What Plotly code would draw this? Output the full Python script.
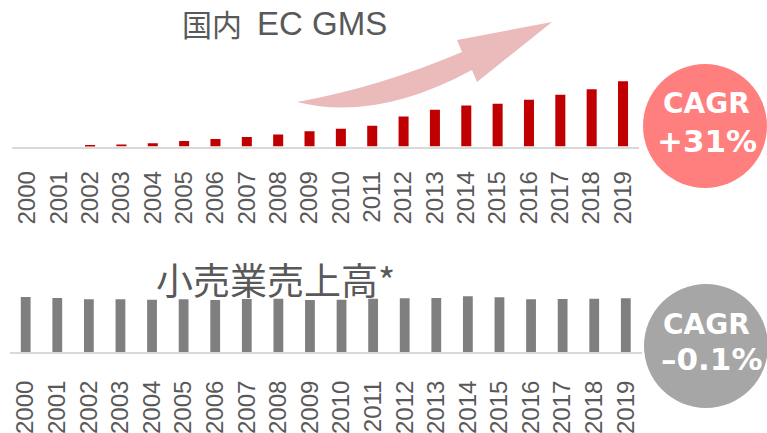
import plotly.graph_objects as go

# ---------------- data ----------------
years = ["2000", "2001", "2002", "2003", "2004", "2005", "2006", "2007", "2008", "2009",
         "2010", "2011", "2012", "2013", "2014", "2015", "2016", "2017", "2018", "2019"]
ec_gms = [0, 0, 0.3, 0.6, 1.0, 1.6, 2.2, 2.8, 3.6, 4.5,
          5.3, 6.2, 8.9, 10.9, 12.2, 12.7, 13.9, 15.4, 17.0, 19.4]
retail_sales = [148.5, 145.8, 142.3, 142.3, 141.2, 142.3, 140.4, 143.1, 143.9, 140.4,
                141.2, 143.9, 145.0, 145.8, 150.4, 147.7, 142.3, 143.1, 143.9, 145.0]
titles = ["国内", "EC GMS", "小売業売上高*"]
cagr_heads = ["CAGR", "CAGR"]
cagr_values = ["+31%", "–0.1%"]

# ---------------- layout helpers (pixel -> paper) ----------------
W, H = 767, 433
def fx(x):
    return x / W
def fy(y):
    return 1 - y / H

GRAY_TXT = "#595959"
AXIS_LINE = "#D9D9D9"

fig = go.Figure()
fig.add_trace(go.Bar(x=years, y=ec_gms, marker_color="#C00000", marker_line_width=0,
                     width=0.32, xaxis="x", yaxis="y", hoverinfo="x+y"))
fig.add_trace(go.Bar(x=years, y=retail_sales, marker_color="#7F7F7F", marker_line_width=0,
                     width=0.31, xaxis="x2", yaxis="y2", hoverinfo="x+y"))

tickfont = dict(family="Liberation Sans, Arial, sans-serif", size=24, color=GRAY_TXT)
common_x = dict(type="category", showline=True, linecolor=AXIS_LINE, linewidth=2,
                showgrid=False, zeroline=False, ticks="", tickangle=-90,
                tickfont=tickfont, fixedrange=True)

fig.update_layout(
    width=W, height=H, autosize=False,
    margin=dict(l=0, r=0, t=0, b=0),
    paper_bgcolor="white", plot_bgcolor="white",
    showlegend=False,
    xaxis=dict(domain=[fx(11.7), fx(638.7)], anchor="y", ticklabelstandoff=13, **common_x),
    yaxis=dict(domain=[fy(146.5), fy(60)], range=[0, 25.7], visible=False, anchor="x"),
    xaxis2=dict(domain=[fx(9.9), fx(641.6)], anchor="y2", ticklabelstandoff=17, **common_x),
    yaxis2=dict(domain=[fy(352), fy(290)], range=[0, 167.4], visible=False, anchor="x2"),
)

# ---------------- decorative arrow ----------------
def P(x, y):
    return f"{fx(x):.5f},{fy(y):.5f}"

arrow_path = (f"M {P(297,102)} Q {P(380,87)} {P(462,52)} L {P(457,40)} L {P(552,22)} "
              f"L {P(477,82)} L {P(472,70)} Q {P(376,122)} {P(297,102)} Z")
fig.add_shape(type="path", path=arrow_path, xref="paper", yref="paper",
              fillcolor="#EBBABA", line=dict(width=0), layer="below")

# ---------------- CAGR circles ----------------
circles = [((705, 126), 62, "#FF7F7F"), ((706, 346), 62, "#A6A6A6")]
for (cx, cy), r, col in circles:
    fig.add_shape(type="circle", xref="paper", yref="paper",
                  x0=fx(cx - r), x1=fx(cx + r), y0=fy(cy + r), y1=fy(cy - r),
                  fillcolor=col, line=dict(width=0))

circle_font = "DejaVu Sans, Verdana, sans-serif"
head_pos = [(706, 104), (706, 324)]
val_pos = [(707, 141), (711, 359)]
for i in range(2):
    fig.add_annotation(x=fx(head_pos[i][0]), y=fy(head_pos[i][1]), xref="paper", yref="paper",
                       text=f"<b>{cagr_heads[i]}</b>", showarrow=False,
                       xanchor="center", yanchor="middle",
                       font=dict(family=circle_font, size=28, color="white"))
    fig.add_annotation(x=fx(val_pos[i][0]), y=fy(val_pos[i][1]), xref="paper", yref="paper",
                       text=f"<b>{cagr_values[i]}</b>", showarrow=False,
                       xanchor="center", yanchor="middle",
                       font=dict(family=circle_font, size=31, color="white"))

# ---------------- titles ----------------
fig.add_annotation(x=fx(180), y=fy(23), xref="paper", yref="paper", text=titles[0],
                   showarrow=False, xanchor="left", yanchor="middle",
                   font=dict(family="Noto Sans CJK JP", size=30, color=GRAY_TXT))
fig.add_annotation(x=fx(255), y=fy(23), xref="paper", yref="paper", text=titles[1],
                   showarrow=False, xanchor="left", yanchor="middle",
                   font=dict(family="Liberation Sans, Arial, sans-serif", size=33, color=GRAY_TXT))
fig.add_annotation(x=fx(154), y=fy(279), xref="paper", yref="paper", text=titles[2],
                   showarrow=False, xanchor="left", yanchor="middle",
                   font=dict(family="Noto Sans CJK JP", size=37, color=GRAY_TXT))

fig.write_html("out.html", config={"displayModeBar": False},
               post_script="document.body.style.margin='0';document.body.style.overflow='hidden';")
